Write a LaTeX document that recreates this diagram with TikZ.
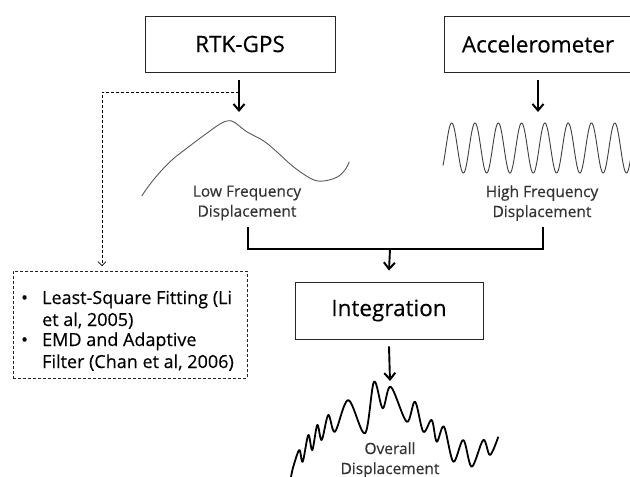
\documentclass[tikz,border=0pt]{standalone}
\usepackage{fontspec}
\setmainfont{Open Sans}
\newfontfamily\heavyfont{Open Sans}[FakeBold=0.35]
\usetikzlibrary{arrows.meta,calc}
\begin{document}
\begin{tikzpicture}[x=1pt,y=-1pt,
  box/.style={draw=black!85, line width=0.9pt, inner sep=0pt},
  bigfont/.style={font=\heavyfont\fontsize{22.5}{26}\selectfont},
  smallfont/.style={font=\heavyfont\fontsize{15.5}{20}\selectfont, text=black!80, align=center},
  listfont/.style={font=\heavyfont\fontsize{18}{21}\selectfont},
  bigarrow/.style={line width=1.9pt, -{Straight Barb[length=6.5pt,width=11pt,line width=2pt]}},
  thickline/.style={line width=1.9pt},
  dashline/.style={line width=0.7pt, dash pattern=on 3pt off 2pt, -{Straight Barb[length=4pt,width=8pt,line width=0.7pt]}},
  wave/.style={line width=0.9pt, draw=black!65},
  bigwave/.style={line width=1.8pt, line join=round}
]
\clip (0,0) rectangle (630,477);
\fill[white] (0,0) rectangle (630,477);

% boxes
\node[box, bigfont, minimum width=190pt, minimum height=56pt] (gps) at (240,44) {RTK-GPS};
\node[box, bigfont, minimum width=188pt, minimum height=56pt] (acc) at (538,44) {Accelerometer};
\node[box, bigfont, minimum width=188pt, minimum height=57pt] (integ) at (389,310.5) {Integration};

% methods box
\node[draw=black!85, line width=0.7pt, dash pattern=on 3pt off 2pt, inner sep=0pt,
      minimum width=234pt, minimum height=107pt, anchor=north west] (methods) at (13,271) {};
\node[listfont, inner sep=0pt, anchor=base west] (mtext) at (21,304)
  {\begin{tabular}[t]{@{}p{21pt}@{}l@{}}
   • & Least-Square Fitting (Li\\[1pt]
     & et al, 2005)\\[-1pt]
   • & EMD and Adaptive\\[1pt]
     & Filter (Chan et al, 2006)
   \end{tabular}};

% labels
\node[smallfont] (lowlbl) at (247,203) {Low Frequency\\Displacement};
\node[smallfont] (highlbl) at (542,203) {High Frequency\\Displacement};
\node[smallfont] (ovlbl) at (390,460) {Overall\\Displacement};

% coordinates
\coordinate (lowtop) at (239,112);
\coordinate (hightop) at (538,112);
\coordinate (dstart) at (239,92);
\coordinate (dcorner) at (102,92);
\coordinate (lowb) at (248,227);
\coordinate (highb) at (543,227);
\coordinate (mj) at (390,249);
\coordinate (ovtop) at (390,381);

% arrows
\draw[bigarrow] ([yshift=-8pt]gps.south -| lowtop) -- (lowtop);
\draw[bigarrow] ([yshift=-8pt]acc.south) -- (hightop);
\draw[dashline] (dstart) -- (dcorner) -- ([yshift=5pt]methods.north -| dcorner);
\draw[thickline] (lowb) |- (mj) -| (highb);
\draw[bigarrow] (mj) -- ([yshift=11pt]integ.north);
\draw[bigarrow] ([yshift=-7pt]integ.south) -- (ovtop);

% low frequency curve
\draw[wave] plot[smooth, tension=0.6] coordinates {
 (141.7,196) (153.3,180) (170,161.7) (186.7,148.3) (206.7,133.3) (220,124)
 (228.3,120.7) (235,122.7) (246.7,131.7) (263.3,140.7) (276.7,151.7)
 (293.3,166.7) (311.7,179) (323.3,181) (336.7,177.3) (345,170) (349.3,161.7)};

% high frequency wave
\draw[wave, draw=black!75] plot[domain=443:632, samples=400] (\x, {148-25*cos(15.451*(\x-451.7))});

% overall wave
\draw[bigwave] plot[smooth, tension=0.55] coordinates {
 (291,477) (293.3,466.7) (299.3,450) (302.7,461.7) (308.3,435) (312.3,450) (317.3,425)
 (321.7,440) (328.3,415) (335,431.7) (348.3,400) (365,433.3) (374,381.7)
 (382.7,408.3) (390.7,386.7) (406.7,421.7) (415,401.7) (423.3,431.7)
 (431.7,420) (436.7,441.7) (444,426.7) (453.3,461.7) (463.3,440)
 (471.7,466.7) (483.3,440) (490,455) (498.3,436.7)};
\end{tikzpicture}
\end{document}
